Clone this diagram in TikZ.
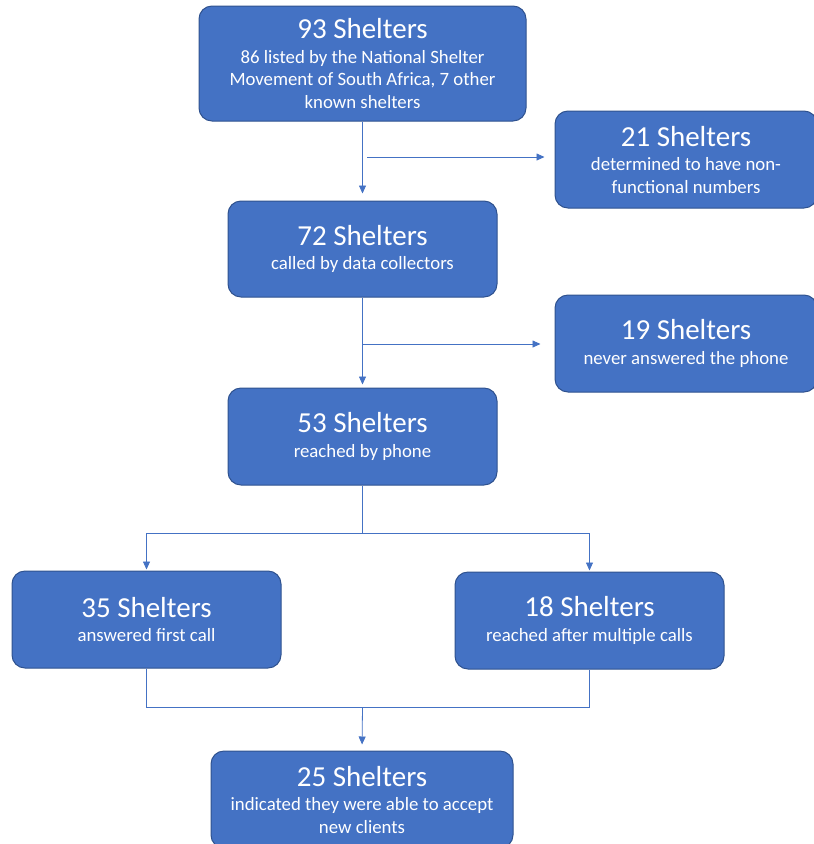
\documentclass[tikz,border=0pt]{standalone}
\usepackage{fontspec}
\setmainfont{Carlito}
\usetikzlibrary{arrows.meta}
\definecolor{boxfill}{HTML}{4472C4}
\definecolor{boxedge}{HTML}{2F528F}
\definecolor{linkcol}{HTML}{4472C4}
\newcommand\ttl[1]{{\fontsize{29}{30}\selectfont #1}\\[2pt]}
\begin{document}
\begin{tikzpicture}[x=1pt,y=-1pt,
  shelterbox/.style={draw=boxedge, fill=boxfill, line width=1pt, rounded corners=13pt,
    text=white, align=center, font=\fontsize{18.8}{22.5}\selectfont, inner sep=0pt},
  link/.style={draw=linkcol, line width=0.8pt},
  arr/.style={link, -{Triangle[length=8pt,width=7pt]}}]
\useasboundingbox (0,0) rectangle (814,844);
\clip (0,0) rectangle (814,844);
\node[shelterbox, minimum width=327pt, minimum height=115pt] (b1) at (362.5,63.5)
  {\ttl{93 Shelters}86 listed by the National Shelter\\Movement of South Africa, 7 other\\known shelters};
\node[shelterbox, minimum width=262pt, minimum height=97pt] (b2) at (686,159.5)
  {\ttl{21 Shelters}determined to have non-\\functional numbers};
\node[shelterbox, minimum width=269pt, minimum height=96pt] (b3) at (362.5,249)
  {\ttl{72 Shelters}called by data collectors};
\node[shelterbox, minimum width=262pt, minimum height=97pt] (b4) at (686,343.5)
  {\ttl{19 Shelters}never answered the phone};
\node[shelterbox, minimum width=269pt, minimum height=97pt] (b5) at (362.5,436.5)
  {\ttl{53 Shelters}reached by phone};
\node[shelterbox, minimum width=269pt, minimum height=97pt] (b6) at (146.5,619.5)
  {\ttl{35 Shelters}answered first call};
\node[shelterbox, minimum width=269pt, minimum height=97pt] (b7) at (589.5,620.5)
  {\ttl{18 Shelters}reached after multiple calls};
\node[shelterbox, minimum width=302pt, minimum height=97pt] (b8) at (362,799.5)
  {\ttl{25 Shelters}indicated they were able to accept\\new clients};
\coordinate (j1) at (367,157);
\coordinate (j2) at (362.5,344);
\coordinate (j3) at (362.5,533);
\coordinate (j4) at (362.5,707);
% connectors
\draw[arr, shorten >=7pt] (b1.south) -- (b3.north);
\draw[arr, shorten >=10pt] (j1) -- (j1 -| b2.west);
\draw[arr, shorten >=3pt] (b3.south) -- (b5.north);
\draw[arr, shorten >=14pt] (j2) -- (j2 -| b4.west);
\draw[link] (b5.south) -- (j3);
\draw[arr, shorten >=1pt] (j3) -| (b6.north);
\draw[arr, shorten >=1pt] (j3) -| (b7.north);
\draw[link] (b6.south) |- (j4);
\draw[link] (b7.south) |- (j4);
\draw[arr, shorten >=6pt] (j4) -- (b8.north);
\end{tikzpicture}
\end{document}
